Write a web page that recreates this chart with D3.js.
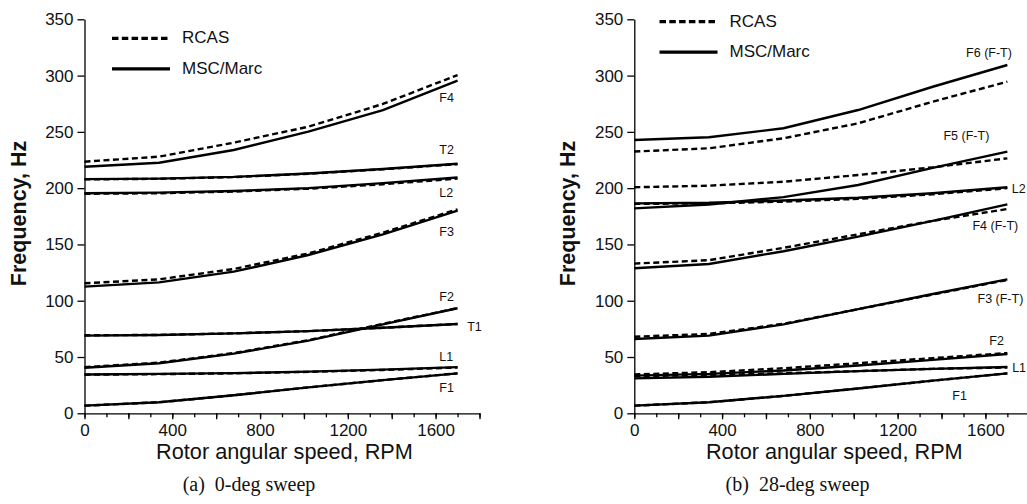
<!DOCTYPE html>
<html>
<head>
<meta charset="utf-8">
<script src="https://cdn.jsdelivr.net/npm/d3@7"></script>
<style>
  body { margin: 0; background: #fff; }
  svg { display: block; }
  text { font-family: Arial, "Liberation Sans", sans-serif; fill: #111; }
  .caption { font-family: "Times New Roman", "Liberation Serif", serif; }
</style>
</head>
<body>
<div id="chart"></div>
<script>
// rotor speed at which modes were computed
var rpm = [0, 340, 680, 1020, 1360, 1700];

// (a) 0-deg sweep
var modesA = ["F1", "L1", "F2", "T1", "F3", "L2", "T2", "F4"];
var marcA = [
    [6.8, 9.8, 16, 23, 29.5, 35.5],
    [34.5, 35, 35.7, 37, 38.8, 41],
    [40.5, 44.5, 53, 64.5, 79, 93.3],
    [69, 69.5, 71, 73, 76, 79.3],
    [112.5, 116.3, 125.8, 140.6, 159, 180],
    [195.5, 196, 197.5, 200, 204.5, 209.5],
    [208, 208.5, 210, 213, 217, 221.7],
    [219, 222.6, 233.9, 250.2, 269.4, 295.5]
];
var rcasA = [
    [6.8, 9.8, 16, 23, 29.5, 35.5],
    [34.3, 34.8, 35.5, 36.8, 38.5, 40.7],
    [41, 45, 53.5, 65, 79.5, 93.5],
    [69.3, 69.6, 71, 73, 76, 79.3],
    [115.5, 119, 128.2, 142, 160.5, 181.2],
    [195, 195.5, 197, 199.5, 203.5, 208.5],
    [207.8, 208.3, 209.8, 212.8, 216.8, 221.3],
    [223.5, 228, 240.4, 254.6, 274.8, 300.5]
];
// label anchor in data units [rpm, Hz]
var labelPosA = [
    [1617, 19], [1617, 46.5], [1617, 100.2], [1744, 72.7],
    [1617, 157.5], [1617, 192.2], [1617, 230.3], [1617, 276.5]
];

// (b) 28-deg sweep
var modesB = ["F1", "L1", "F2", "F3 (F-T)", "F4 (F-T)", "L2", "F5 (F-T)", "F6 (F-T)"];
var marcB = [
    [6.8, 9.8, 15.5, 22, 29, 35.5],
    [31, 32.5, 35, 37.5, 39.5, 41.1],
    [33.5, 35, 38, 42.5, 47.5, 52.7],
    [66, 69, 79, 92.5, 106, 119],
    [128.8, 132.6, 144, 157, 171, 185.6],
    [186.5, 187, 189, 191.5, 195.5, 200.8],
    [182, 185.5, 192, 202.8, 218, 232.4],
    [242.8, 245.2, 253.2, 269.4, 290.1, 309.4]
];
var rcasB = [
    [6.8, 9.8, 15.5, 22, 29, 35.5],
    [33, 34, 35.5, 37.5, 39.5, 40.7],
    [34.5, 36.5, 40, 44.5, 49, 53.5],
    [68, 70.5, 79.5, 92.5, 105.5, 118.5],
    [133, 136, 147, 159, 171, 181.5],
    [186, 186.5, 188, 190.5, 194.5, 200],
    [200.8, 202.2, 205.7, 211.7, 218.5, 226.5],
    [232.5, 235.4, 244.3, 257.6, 276.8, 294.6]
];
var labelPosB = [
    [1449, 11.8], [1722, 37.1], [1618, 60.7], [1564, 98],
    [1541, 162.4], [1720, 195.7], [1409, 242.8], [1512, 316.8]
];

var yTicks = [0, 50, 100, 150, 200, 250, 300, 350];
var xLabels = [0, 400, 800, 1200, 1600];
var legendNames = ["RCAS", "MSC/Marc"];

var width = 1027, height = 504;

var svg = d3.select("#chart")
    .append("svg")
    .attr("width", width)
    .attr("height", height);

function drawPanel(opt) {
    var x = d3.scaleLinear().domain([0, 1800]).range([opt.left, opt.left + 395]);
    var y = d3.scaleLinear().domain([0, 350]).range([413.3, 19.3]);
    var g = svg.append("g");

    // y axis
    g.append("g")
        .attr("transform", "translate(" + opt.left + ",0)")
        .call(d3.axisLeft(y).tickValues(yTicks).tickSize(7).tickSizeOuter(0).tickPadding(4))
        .call(function (s) {
            s.selectAll("text").style("font-size", "17px").attr("fill", "#111");
            s.selectAll("line, path").attr("stroke", "#000").attr("stroke-width", 1.3);
        });

    // x axis - minor ticks every 100
    g.append("g")
        .attr("transform", "translate(0,413.3)")
        .call(d3.axisBottom(x).tickValues(d3.range(0, 1801, 100)).tickSize(4).tickSizeOuter(0).tickFormat(""))
        .call(function (s) {
            s.selectAll("line, path").attr("stroke", "#000").attr("stroke-width", 1.3);
        });
    // major ticks every 200, labels every 400
    g.append("g")
        .attr("transform", "translate(0,413.3)")
        .call(d3.axisBottom(x).tickValues(d3.range(0, 1801, 200)).tickSize(6).tickSizeOuter(0).tickPadding(5)
            .tickFormat(function (d) { return xLabels.indexOf(d) >= 0 ? d : ""; }))
        .call(function (s) {
            s.select(".domain").remove();
            s.selectAll("text").style("font-size", "17px").attr("fill", "#111");
            s.selectAll("line").attr("stroke", "#000").attr("stroke-width", 1.3);
        });

    // axis titles
    g.append("text")
        .attr("x", opt.left + 200)
        .attr("y", 459)
        .attr("text-anchor", "middle")
        .style("font-size", "21.7px")
        .text("Rotor angular speed, RPM");

    g.append("text")
        .attr("transform", "translate(" + (opt.left - 59) + ",213.5) rotate(-90)")
        .attr("text-anchor", "middle")
        .style("font-size", "21.5px")
        .style("font-weight", "bold")
        .text("Frequency, Hz");

    g.append("text")
        .attr("class", "caption")
        .attr("x", opt.capX)
        .attr("y", 491)
        .attr("text-anchor", "middle")
        .style("font-size", "20px")
        .style("white-space", "pre")
        .text(opt.caption);

    var line = d3.line()
        .x(function (d, i) { return x(rpm[i]); })
        .y(function (d) { return y(d); });

    g.selectAll("path.marc")
        .data(opt.marc)
        .enter().append("path")
        .attr("class", "marc")
        .attr("d", line)
        .attr("fill", "none")
        .attr("stroke", "#000")
        .attr("stroke-width", 2.4);

    g.selectAll("path.rcas")
        .data(opt.rcas)
        .enter().append("path")
        .attr("class", "rcas")
        .attr("d", line)
        .attr("fill", "none")
        .attr("stroke", "#000")
        .attr("stroke-width", 2.4)
        .attr("stroke-dasharray", "6,3.5");

    g.selectAll("text.mode")
        .data(opt.modes)
        .enter().append("text")
        .attr("class", "mode")
        .attr("x", function (d, i) { return x(opt.labelPos[i][0]); })
        .attr("y", function (d, i) { return y(opt.labelPos[i][1]); })
        .style("font-size", "12.5px")
        .attr("fill", "#222")
        .text(function (d) { return d; });

    // legend
    var leg = g.selectAll("g.legend")
        .data(legendNames)
        .enter().append("g")
        .attr("class", "legend")
        .attr("transform", function (d, i) {
            return "translate(" + opt.legX + "," + (opt.legY + i * 30.5) + ")";
        });
    leg.append("line")
        .attr("x1", 0).attr("x2", 58)
        .attr("stroke", "#000")
        .attr("stroke-width", 3.2)
        .attr("stroke-dasharray", function (d, i) { return i === 0 ? "6.5,3.3" : null; });
    leg.append("text")
        .attr("x", 70)
        .attr("y", 5)
        .style("font-size", "17px")
        .text(function (d) { return d; });
}

drawPanel({
    left: 84.5, modes: modesA, marc: marcA, rcas: rcasA, labelPos: labelPosA,
    legX: 112, legY: 38.3, capX: 249, caption: "(a)  0-deg sweep"
});
drawPanel({
    left: 634.3, modes: modesB, marc: marcB, rcas: rcasB, labelPos: labelPosB,
    legX: 659.5, legY: 21.7, capX: 797.5, caption: "(b)  28-deg sweep"
});
</script>
</body>
</html>
